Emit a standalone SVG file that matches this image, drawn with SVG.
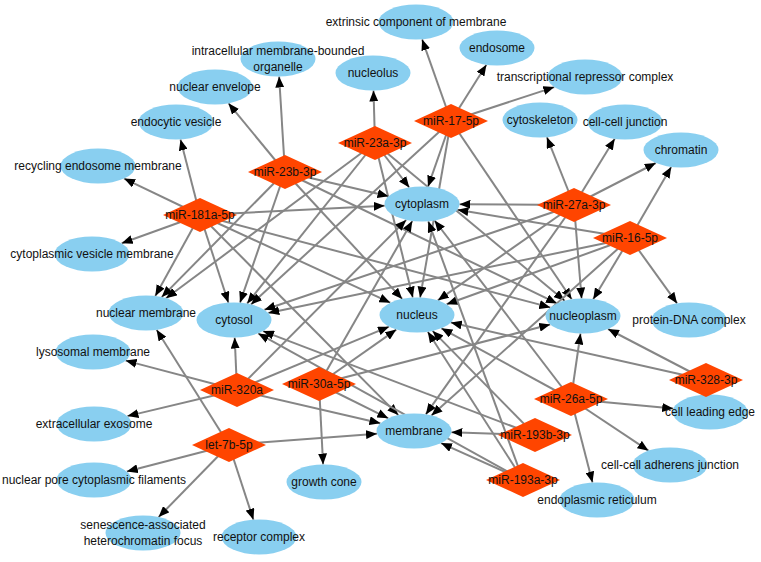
<svg xmlns="http://www.w3.org/2000/svg" width="761" height="562" viewBox="0 0 761 562">
<style>
.bg{fill:#ffffff}
.ed line{stroke:#868686;stroke-width:2;fill:none;marker-end:url(#ah)}
.e{fill:#89CFF0;stroke:none}
.d{fill:#FF4500;stroke:none}
text{font-family:"Liberation Sans",Arial,sans-serif;font-size:12px;fill:#111;text-anchor:middle}
</style>
<defs>
<marker id="ah" markerUnits="userSpaceOnUse" markerWidth="11" markerHeight="9" refX="11" refY="4.5" orient="auto">
<path d="M0,0 L11,4.5 L0,9 z" fill="#000"/>
</marker>
</defs>
<rect class="bg" width="761" height="562"/>
<g id="edges" class="ed">
<line x1="451" y1="121" x2="422.1" y2="39.3"/>
<line x1="451" y1="121" x2="486.4" y2="64.8"/>
<line x1="451" y1="121" x2="554.3" y2="87.1"/>
<line x1="451" y1="121" x2="428.0" y2="186.7"/>
<line x1="451" y1="121" x2="420.1" y2="297.6"/>
<line x1="451" y1="121" x2="571.7" y2="299.3"/>
<line x1="451" y1="121" x2="251.0" y2="304.4"/>
<line x1="375" y1="143" x2="373.5" y2="90.5"/>
<line x1="375" y1="143" x2="409.3" y2="187.5"/>
<line x1="375" y1="143" x2="412.8" y2="297.6"/>
<line x1="375" y1="143" x2="564.7" y2="300.7"/>
<line x1="375" y1="143" x2="247.1" y2="303.6"/>
<line x1="375" y1="143" x2="166.0" y2="298.2"/>
<line x1="285" y1="172" x2="279.1" y2="76.5"/>
<line x1="285" y1="172" x2="228.5" y2="103.3"/>
<line x1="285" y1="172" x2="388.5" y2="196.2"/>
<line x1="285" y1="172" x2="402.2" y2="298.9"/>
<line x1="285" y1="172" x2="557.0" y2="303.4"/>
<line x1="285" y1="172" x2="240.0" y2="302.7"/>
<line x1="285" y1="172" x2="161.7" y2="297.1"/>
<line x1="200" y1="215" x2="124.1" y2="178.6"/>
<line x1="200" y1="215" x2="180.5" y2="139.4"/>
<line x1="200" y1="215" x2="121.7" y2="243.3"/>
<line x1="200" y1="215" x2="155.3" y2="296.0"/>
<line x1="200" y1="215" x2="228.4" y2="302.7"/>
<line x1="200" y1="215" x2="384.7" y2="205.8"/>
<line x1="200" y1="215" x2="390.3" y2="302.7"/>
<line x1="200" y1="215" x2="550.3" y2="307.4"/>
<line x1="200" y1="215" x2="398.3" y2="415.1"/>
<line x1="574" y1="205" x2="546.9" y2="137.2"/>
<line x1="574" y1="205" x2="614.7" y2="138.8"/>
<line x1="574" y1="205" x2="655.8" y2="163.0"/>
<line x1="574" y1="205" x2="459.5" y2="204.2"/>
<line x1="574" y1="205" x2="437.8" y2="300.4"/>
<line x1="574" y1="205" x2="581.6" y2="298.5"/>
<line x1="574" y1="205" x2="264.4" y2="309.7"/>
<line x1="574" y1="205" x2="425.8" y2="414.4"/>
<line x1="630" y1="238" x2="671.2" y2="166.9"/>
<line x1="630" y1="238" x2="677.1" y2="303.4"/>
<line x1="630" y1="238" x2="457.4" y2="209.8"/>
<line x1="630" y1="238" x2="446.6" y2="304.3"/>
<line x1="630" y1="238" x2="593.2" y2="299.2"/>
<line x1="630" y1="238" x2="268.3" y2="312.9"/>
<line x1="630" y1="238" x2="431.4" y2="415.5"/>
<line x1="706" y1="380" x2="450.8" y2="322.6"/>
<line x1="706" y1="380" x2="608.0" y2="329.0"/>
<line x1="571" y1="399" x2="580.5" y2="333.5"/>
<line x1="571" y1="399" x2="441.4" y2="328.3"/>
<line x1="571" y1="399" x2="434.6" y2="220.5"/>
<line x1="571" y1="399" x2="673.2" y2="408.6"/>
<line x1="571" y1="399" x2="648.5" y2="450.7"/>
<line x1="571" y1="399" x2="592.5" y2="482.6"/>
<line x1="535" y1="435" x2="451.4" y2="432.2"/>
<line x1="535" y1="435" x2="263.0" y2="331.1"/>
<line x1="535" y1="435" x2="432.6" y2="330.9"/>
<line x1="523" y1="480" x2="441.0" y2="443.1"/>
<line x1="523" y1="480" x2="427.8" y2="331.8"/>
<line x1="523" y1="480" x2="428.3" y2="221.3"/>
<line x1="523" y1="480" x2="258.2" y2="333.4"/>
<line x1="237" y1="390" x2="234.7" y2="337.5"/>
<line x1="237" y1="390" x2="406.2" y2="219.9"/>
<line x1="237" y1="390" x2="389.0" y2="326.7"/>
<line x1="237" y1="390" x2="125.6" y2="360.6"/>
<line x1="237" y1="390" x2="127.4" y2="416.1"/>
<line x1="237" y1="390" x2="380.4" y2="423.2"/>
<line x1="319" y1="384" x2="412.3" y2="220.9"/>
<line x1="319" y1="384" x2="396.3" y2="329.6"/>
<line x1="319" y1="384" x2="550.2" y2="324.5"/>
<line x1="319" y1="384" x2="388.3" y2="418.3"/>
<line x1="319" y1="384" x2="323.1" y2="464.5"/>
<line x1="229" y1="445" x2="156.6" y2="329.8"/>
<line x1="229" y1="445" x2="377.0" y2="433.8"/>
<line x1="229" y1="445" x2="126.8" y2="471.5"/>
<line x1="229" y1="445" x2="158.6" y2="517.1"/>
<line x1="229" y1="445" x2="253.4" y2="519.7"/>
</g>
<g id="go-extrinsic-component-of-membrane" transform="translate(416,22)"><ellipse class="e" rx="37.5" ry="17.5"/><text y="4.3">extrinsic component of membrane</text></g>
<g id="go-endosome" transform="translate(497,48)"><ellipse class="e" rx="37.5" ry="17.5"/><text y="4.3">endosome</text></g>
<g id="go-transcriptional-repressor-complex" transform="translate(585,77)"><ellipse class="e" rx="37.5" ry="17.5"/><text y="4.3">transcriptional repressor complex</text></g>
<g id="go-nucleolus" transform="translate(373,73)"><ellipse class="e" rx="37.5" ry="17.5"/><text y="4.3">nucleolus</text></g>
<g id="go-intracellular-membrane-bounded-organelle" transform="translate(278,59)"><ellipse class="e" rx="37.5" ry="17.5"/><text y="-3.7">intracellular membrane-bounded</text><text y="12.3">organelle</text></g>
<g id="go-nuclear-envelope" transform="translate(215,87)"><ellipse class="e" rx="37.5" ry="17.5"/><text y="4.3">nuclear envelope</text></g>
<g id="go-endocytic-vesicle" transform="translate(176,122)"><ellipse class="e" rx="37.5" ry="17.5"/><text y="4.3">endocytic vesicle</text></g>
<g id="go-recycling-endosome-membrane" transform="translate(98,166)"><ellipse class="e" rx="37.5" ry="17.5"/><text y="4.3">recycling endosome membrane</text></g>
<g id="go-cytoskeleton" transform="translate(540,120)"><ellipse class="e" rx="37.5" ry="17.5"/><text y="4.3">cytoskeleton</text></g>
<g id="go-cell-cell-junction" transform="translate(625,122)"><ellipse class="e" rx="37.5" ry="17.5"/><text y="4.3">cell-cell junction</text></g>
<g id="go-chromatin" transform="translate(681,150)"><ellipse class="e" rx="37.5" ry="17.5"/><text y="4.3">chromatin</text></g>
<g id="go-cytoplasm" transform="translate(422,204)"><ellipse class="e" rx="37.5" ry="17.5"/><text y="4.3">cytoplasm</text></g>
<g id="go-nucleus" transform="translate(417,315)"><ellipse class="e" rx="37.5" ry="17.5"/><text y="4.3">nucleus</text></g>
<g id="go-nucleoplasm" transform="translate(583,316)"><ellipse class="e" rx="37.5" ry="17.5"/><text y="4.3">nucleoplasm</text></g>
<g id="go-protein-DNA-complex" transform="translate(689,320)"><ellipse class="e" rx="37.5" ry="17.5"/><text y="4.3">protein-DNA complex</text></g>
<g id="go-cytoplasmic-vesicle-membrane" transform="translate(92,254)"><ellipse class="e" rx="37.5" ry="17.5"/><text y="4.3">cytoplasmic vesicle membrane</text></g>
<g id="go-nuclear-membrane" transform="translate(146,313)"><ellipse class="e" rx="37.5" ry="17.5"/><text y="4.3">nuclear membrane</text></g>
<g id="go-cytosol" transform="translate(234,320)"><ellipse class="e" rx="37.5" ry="17.5"/><text y="4.3">cytosol</text></g>
<g id="go-lysosomal-membrane" transform="translate(93,352)"><ellipse class="e" rx="37.5" ry="17.5"/><text y="4.3">lysosomal membrane</text></g>
<g id="go-extracellular-exosome" transform="translate(94,424)"><ellipse class="e" rx="37.5" ry="17.5"/><text y="4.3">extracellular exosome</text></g>
<g id="go-nuclear-pore-cytoplasmic-filaments" transform="translate(94,480)"><ellipse class="e" rx="37.5" ry="17.5"/><text y="4.3">nuclear pore cytoplasmic filaments</text></g>
<g id="go-senescence-associated-heterochromatin-focus" transform="translate(143,533)"><ellipse class="e" rx="37.5" ry="17.5"/><text y="-3.7">senescence-associated</text><text y="12.3">heterochromatin focus</text></g>
<g id="go-receptor-complex" transform="translate(259,537)"><ellipse class="e" rx="37.5" ry="17.5"/><text y="4.3">receptor complex</text></g>
<g id="go-growth-cone" transform="translate(324,482)"><ellipse class="e" rx="37.5" ry="17.5"/><text y="4.3">growth cone</text></g>
<g id="go-membrane" transform="translate(414,431)"><ellipse class="e" rx="37.5" ry="17.5"/><text y="4.3">membrane</text></g>
<g id="go-cell-leading-edge" transform="translate(710,412)"><ellipse class="e" rx="37.5" ry="17.5"/><text y="4.3">cell leading edge</text></g>
<g id="go-cell-cell-adherens-junction" transform="translate(670,465)"><ellipse class="e" rx="37.5" ry="17.5"/><text y="4.3">cell-cell adherens junction</text></g>
<g id="go-endoplasmic-reticulum" transform="translate(597,500)"><ellipse class="e" rx="37.5" ry="17.5"/><text y="4.3">endoplasmic reticulum</text></g>
<g id="mir-17-5p" transform="translate(451,121)"><polygon class="d" points="-37,0 0,-17 37,0 0,17"/><text y="4.3">miR-17-5p</text></g>
<g id="mir-23a-3p" transform="translate(375,143)"><polygon class="d" points="-37,0 0,-17 37,0 0,17"/><text y="4.3">miR-23a-3p</text></g>
<g id="mir-23b-3p" transform="translate(285,172)"><polygon class="d" points="-37,0 0,-17 37,0 0,17"/><text y="4.3">miR-23b-3p</text></g>
<g id="mir-181a-5p" transform="translate(200,215)"><polygon class="d" points="-37,0 0,-17 37,0 0,17"/><text y="4.3">miR-181a-5p</text></g>
<g id="mir-27a-3p" transform="translate(574,205)"><polygon class="d" points="-37,0 0,-17 37,0 0,17"/><text y="4.3">miR-27a-3p</text></g>
<g id="mir-16-5p" transform="translate(630,238)"><polygon class="d" points="-37,0 0,-17 37,0 0,17"/><text y="4.3">miR-16-5p</text></g>
<g id="mir-328-3p" transform="translate(706,380)"><polygon class="d" points="-37,0 0,-17 37,0 0,17"/><text y="4.3">miR-328-3p</text></g>
<g id="mir-26a-5p" transform="translate(571,399)"><polygon class="d" points="-37,0 0,-17 37,0 0,17"/><text y="4.3">miR-26a-5p</text></g>
<g id="mir-193b-3p" transform="translate(535,435)"><polygon class="d" points="-37,0 0,-17 37,0 0,17"/><text y="4.3">miR-193b-3p</text></g>
<g id="mir-193a-3p" transform="translate(523,480)"><polygon class="d" points="-37,0 0,-17 37,0 0,17"/><text y="4.3">miR-193a-3p</text></g>
<g id="mir-320a" transform="translate(237,390)"><polygon class="d" points="-37,0 0,-17 37,0 0,17"/><text y="4.3">miR-320a</text></g>
<g id="mir-30a-5p" transform="translate(319,384)"><polygon class="d" points="-37,0 0,-17 37,0 0,17"/><text y="4.3">miR-30a-5p</text></g>
<g id="let-7b-5p" transform="translate(229,445)"><polygon class="d" points="-37,0 0,-17 37,0 0,17"/><text y="4.3">let-7b-5p</text></g>
</svg>
